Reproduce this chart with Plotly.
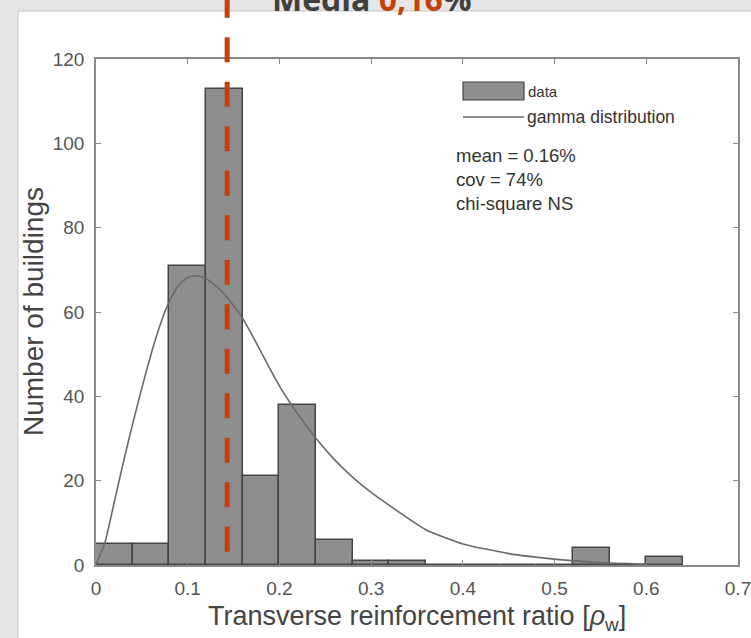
import plotly.graph_objects as go

# ---- data ----
bin_left = [0.00, 0.04, 0.08, 0.12, 0.16, 0.20, 0.24, 0.28, 0.32, 0.36,
            0.40, 0.44, 0.48, 0.52, 0.56, 0.60]
bin_width = 0.04
counts = [5, 5, 71, 113, 21, 38, 6, 1, 1, 0, 0, 0, 0, 4, 0, 2]

gamma_x = [0.0, 0.01, 0.02, 0.03, 0.04, 0.05, 0.06, 0.07, 0.08, 0.09, 0.10,
           0.11, 0.12, 0.13, 0.14, 0.15, 0.16, 0.17, 0.18, 0.19, 0.20, 0.21,
           0.22, 0.23, 0.24, 0.26, 0.28, 0.30, 0.33, 0.36, 0.40, 0.45, 0.50,
           0.55, 0.60]
gamma_y = [0.0, 5.5, 15, 24.5, 33.5, 42, 50, 57, 62.5, 66.3, 68.2,
           68.6, 67.9, 66.3, 64.2, 61.5, 58.5, 54.6, 50.5, 46.4, 42.5, 39.0,
           35.8, 32.8, 30.0, 25.0, 20.8, 17.2, 12.6, 8.3, 5.0, 2.7, 1.4,
           0.6, 0.2]

media_x = 0.143
x_ticks = [0, 0.1, 0.2, 0.3, 0.4, 0.5, 0.6, 0.7]
x_ticklabels = ["0", "0.1", "0.2", "0.3", "0.4", "0.5", "0.6", "0.7"]
y_ticks = [0, 20, 40, 60, 80, 100, 120]

stats_lines = ["mean = 0.16%", "cov = 74%", "chi-square NS"]

bin_centers = [b + bin_width / 2 for b in bin_left]

FONT = "Liberation Sans, Arial, sans-serif"
AXIS_COL = "#8a8a8a"

fig = go.Figure()
fig.add_trace(go.Bar(
    x=bin_centers, y=counts, width=bin_width,
    marker=dict(color="#8e8e8e", line=dict(color="#454545", width=1.5)),
    showlegend=False, hoverinfo="skip"))
fig.add_trace(go.Scatter(
    x=gamma_x, y=gamma_y, mode="lines",
    line=dict(color="#6a6a6a", width=1.6, shape="spline", smoothing=0.5),
    showlegend=False, hoverinfo="skip"))

L, R, T, B = 96, 13, 59, 73
W, H = 751, 638
pw, ph = W - L - R, H - T - B


def px(xp):
    return (xp - L) / pw


def py(yp):
    return (H - B - yp) / ph


shapes = []
# white panel
shapes.append(dict(type="rect", xref="paper", yref="paper",
                   x0=px(18), x1=px(760), y0=py(650), y1=py(11),
                   fillcolor="white", line=dict(color="#c8c8c8", width=1),
                   layer="below"))
# legend swatch
shapes.append(dict(type="rect", xref="paper", yref="paper",
                   x0=px(463), x1=px(524), y0=py(100), y1=py(82),
                   fillcolor="#8e8e8e", line=dict(color="#454545", width=1.2)))
shapes.append(dict(type="line", xref="paper", yref="paper",
                   x0=px(463), x1=px(524), y0=py(117), y1=py(117),
                   line=dict(color="#6a6a6a", width=1.6)))
# red dashed media line
shapes.append(dict(type="line", xref="x", yref="paper",
                   x0=media_x, x1=media_x, y0=py(551.7), y1=py(-10),
                   line=dict(color="#c4410c", width=5, dash="25px,19.5px"),
                   layer="above"))

annotations = [
    dict(text="Media <span style='color:#c4410c'>0,16</span>%",
         xref="paper", yref="paper", x=px(372), y=py(-2), xanchor="center",
         yanchor="middle", showarrow=False,
         font=dict(family="Open Sans, sans-serif", size=32, color="#404040",
                   weight="bold")),
    dict(text="data", xref="paper", yref="paper", x=px(526), y=py(92),
         xanchor="left", yanchor="middle", showarrow=False,
         font=dict(family=FONT, size=15, color="#333333")),
    dict(text="gamma distribution", xref="paper", yref="paper", x=px(525),
         y=py(117), xanchor="left", yanchor="middle", showarrow=False,
         font=dict(family=FONT, size=17.5, color="#333333")),
    dict(text="Transverse reinforcement ratio [<i>ρ</i><sub>w</sub>]",
         xref="paper", yref="paper", x=px(417), y=py(618), xanchor="center",
         yanchor="middle", showarrow=False,
         font=dict(family=FONT, size=27, color="#444444")),
    dict(text="Number of buildings", xref="paper", yref="paper", x=px(33),
         y=py(312), xanchor="center", yanchor="middle", textangle=-90,
         showarrow=False, font=dict(family=FONT, size=28, color="#444444")),
]
for i, s in enumerate(stats_lines):
    annotations.append(dict(text=s, xref="paper", yref="paper", x=px(454),
                            y=py(155 + 24 * i), xanchor="left",
                            yanchor="middle", showarrow=False,
                            font=dict(family=FONT, size=18.5, color="#333333")))

fig.update_layout(
    width=W, height=H,
    margin=dict(l=L, r=R, t=T, b=B, pad=0, autoexpand=False),
    paper_bgcolor="#e6e6e6", plot_bgcolor="rgba(0,0,0,0)",
    bargap=0, showlegend=False,
    shapes=shapes, annotations=annotations,
    font=dict(family=FONT),
)
fig.update_xaxes(range=[0, 0.7], tickvals=x_ticks, ticktext=x_ticklabels,
                 showline=True, linecolor=AXIS_COL, linewidth=1.5,
                 mirror="ticks", ticks="inside", ticklen=5,
                 tickcolor=AXIS_COL, showgrid=False, zeroline=False,
                 ticklabelstandoff=5, automargin=False,
                 ticklabeloverflow="allow",
                 tickfont=dict(family=FONT, size=19, color="#555555"))
fig.update_yaxes(range=[0, 120], tickvals=y_ticks,
                 showline=True, linecolor=AXIS_COL, linewidth=1.5,
                 mirror="ticks", ticks="inside", ticklen=5,
                 tickcolor=AXIS_COL, showgrid=False, zeroline=False,
                 ticklabelstandoff=6, automargin=False,
                 ticklabeloverflow="allow",
                 tickfont=dict(family=FONT, size=19, color="#555555"))

fig.write_html("out.html",
               config={"displayModeBar": False},
               post_script="document.body.style.margin='0';"
                           "document.body.style.overflow='hidden';")
